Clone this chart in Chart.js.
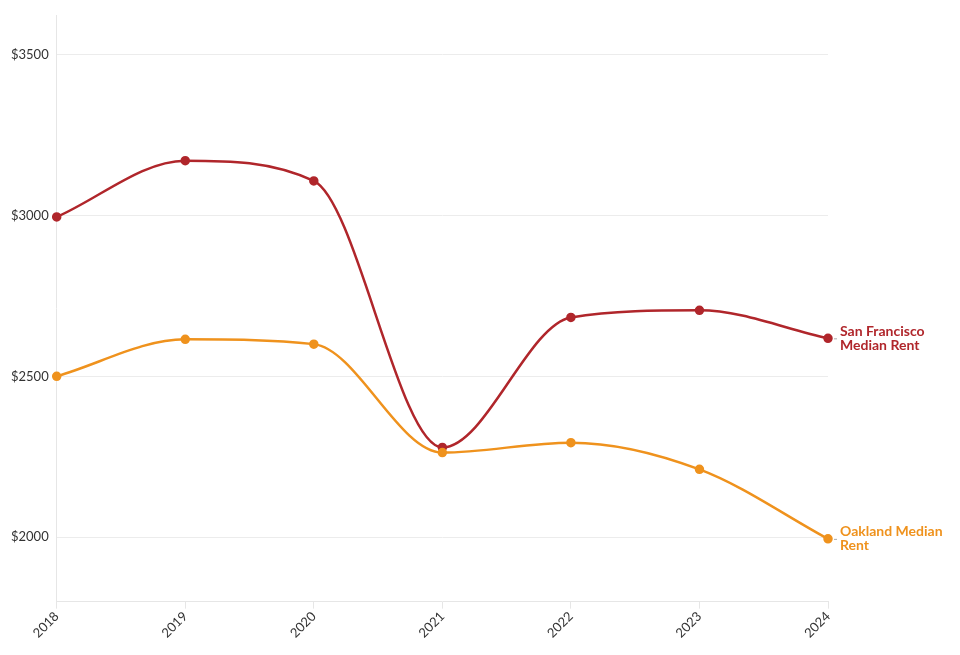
<!DOCTYPE html>
<html>
<head>
<meta charset="utf-8">
<script src="https://cdn.jsdelivr.net/npm/chart.js@4"></script>
<style>
    html, body { margin: 0; padding: 0; background: #fff; }
    #wrap { width: 960px; height: 655px; position: relative; }
</style>
</head>
<body>
<div id="wrap"><canvas id="rentChart"></canvas></div>
<script>
const years = ['2018', '2019', '2020', '2021', '2022', '2023', '2024'];
const sfRent = [2995, 3170, 3107, 2279, 2683, 2705, 2618];
const oaklandRent = [2500, 2615, 2600, 2263, 2294, 2211, 1995];
const yTicks = [2000, 2500, 3000, 3500];

const sfColor = '#b0262b';
const oakColor = '#ef921d';
const fontFamily = 'Lato, "Open Sans", sans-serif';

// labels drawn next to the last point of each line
const endLabels = {
    id: 'endLabels',
    afterDatasetsDraw(chart) {
        const ctx = chart.ctx;
        ctx.save();
        chart.data.datasets.forEach((ds, i) => {
            const meta = chart.getDatasetMeta(i);
            const last = meta.data[meta.data.length - 1];
            if (!last) return;
            const x = last.x;
            const y = last.y;
            ctx.strokeStyle = '#aaa';
            ctx.lineWidth = 1;
            ctx.beginPath();
            ctx.moveTo(x + 6, y + 0.5);
            ctx.lineTo(x + 9, y + 0.5);
            ctx.stroke();
            ctx.fillStyle = ds.borderColor;
            ctx.font = 'bold 14px ' + fontFamily;
            ctx.textBaseline = 'middle';
            ctx.textAlign = 'left';
            ds.endLabel.forEach((line, j) => {
                ctx.fillText(line, x + 12, y - 7 + j * 14);
            });
        });
        ctx.restore();
    }
};

const ctx = document.getElementById('rentChart').getContext('2d');
const chart = new Chart(ctx, {
    type: 'line',
    data: {
        labels: years,
        datasets: [{
            label: 'Oakland Median Rent',
            endLabel: ['Oakland Median', 'Rent'],
            data: oaklandRent,
            borderColor: oakColor,
            backgroundColor: oakColor,
            borderWidth: 2.5,
            pointRadius: 3.5,
            pointHoverRadius: 5,
            cubicInterpolationMode: 'monotone'
        }, {
            label: 'San Francisco Median Rent',
            endLabel: ['San Francisco', 'Median Rent'],
            data: sfRent,
            borderColor: sfColor,
            backgroundColor: sfColor,
            borderWidth: 2.5,
            pointRadius: 3.5,
            pointHoverRadius: 5,
            cubicInterpolationMode: 'monotone'
        }]
    },
    options: {
        responsive: true,
        maintainAspectRatio: false,
        animation: false,
        layout: {
            padding: { top: 15, right: 132, left: 3, bottom: 14 }
        },
        plugins: {
            legend: { display: false },
            tooltip: { enabled: false }
        },
        scales: {
            x: {
                grid: { color: '#e6e6e6', drawOnChartArea: false, tickLength: 7 },
                border: { color: '#e6e6e6' },
                ticks: {
                    color: '#333',
                    font: { family: fontFamily, size: 13 },
                    maxRotation: 45,
                    minRotation: 45,
                    padding: 0
                }
            },
            y: {
                min: 1800,
                max: 3620,
                afterBuildTicks: (axis) => {
                    axis.ticks = yTicks.map(v => ({ value: v }));
                },
                grid: { color: '#ececec', drawTicks: false },
                border: { color: '#e6e6e6' },
                ticks: {
                    color: '#333',
                    font: { family: fontFamily, size: 13 },
                    padding: 8,
                    callback: (value) => '$' + value
                }
            }
        }
    },
    plugins: [endLabels]
});
</script>
</body>
</html>
